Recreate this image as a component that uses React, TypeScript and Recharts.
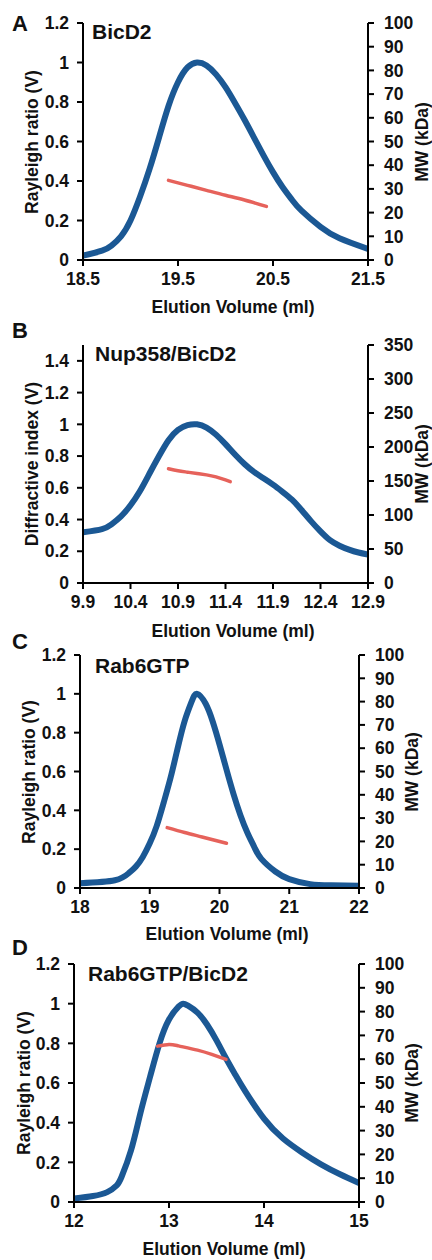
import { Line, LineChart, XAxis, YAxis } from "recharts";

const FONT = '"Liberation Sans", Arial, sans-serif';
const BLUE = "#1b5894";
const RED = "#e6625b";

// A: BicD2
const A_VOL = [18.5, 18.7, 18.8, 18.9, 19.0, 19.1, 19.2, 19.3, 19.4, 19.5, 19.6, 19.7, 19.8, 19.9, 20.0, 20.1, 20.2, 20.3, 20.4, 20.5, 20.6, 20.7, 20.8, 21.0, 21.2, 21.5];
const A_SIGNAL = [0.022, 0.047, 0.073, 0.12, 0.2, 0.32, 0.46, 0.62, 0.78, 0.9, 0.975, 1.0, 0.985, 0.94, 0.875, 0.795, 0.71, 0.62, 0.53, 0.445, 0.37, 0.305, 0.25, 0.168, 0.11, 0.056];
const A_MW_VOL = [19.4, 19.6, 19.8, 20.0, 20.2, 20.43];
const A_MW = [33.6, 31.5, 29.4, 27.3, 25.3, 22.6];

// B: Nup358/BicD2
const B_VOL = [9.9, 10.1, 10.2, 10.3, 10.4, 10.5, 10.6, 10.7, 10.8, 10.9, 11.0, 11.1, 11.2, 11.3, 11.4, 11.5, 11.6, 11.7, 11.8, 11.9, 12.0, 12.1, 12.2, 12.3, 12.4, 12.5, 12.6, 12.7, 12.8, 12.9];
const B_SIGNAL = [0.32, 0.34, 0.37, 0.42, 0.49, 0.58, 0.69, 0.8, 0.9, 0.965, 0.995, 1.0, 0.98, 0.935, 0.875, 0.81, 0.75, 0.7, 0.66, 0.62, 0.575, 0.525, 0.46, 0.39, 0.325, 0.27, 0.235, 0.21, 0.192, 0.18];
const B_MW_VOL = [10.8, 10.9, 11.0, 11.1, 11.2, 11.3, 11.45];
const B_MW = [168, 165, 163, 161, 159, 156, 149];

// C: Rab6GTP
const C_VOL = [18.0, 18.5, 18.7, 18.8, 18.9, 19.0, 19.1, 19.2, 19.3, 19.4, 19.5, 19.6, 19.68, 19.8, 19.9, 20.0, 20.1, 20.2, 20.3, 20.4, 20.5, 20.6, 20.8, 21.0, 21.3, 21.6, 22.0];
const C_SIGNAL = [0.025, 0.04, 0.077, 0.11, 0.16, 0.23, 0.32, 0.44, 0.57, 0.72, 0.86, 0.96, 1.0, 0.95, 0.86, 0.74, 0.61, 0.485, 0.375, 0.285, 0.21, 0.15, 0.085, 0.046, 0.02, 0.014, 0.012];
const C_MW_VOL = [19.25, 19.5, 19.75, 20.1];
const C_MW = [25.9, 23.8, 21.9, 19.2];

// D: Rab6GTP/BicD2
const D_VOL = [12.0, 12.2, 12.35, 12.45, 12.5, 12.6, 12.7, 12.8, 12.9, 13.0, 13.1, 13.15, 13.2, 13.3, 13.4, 13.5, 13.6, 13.7, 13.8, 14.0, 14.2, 14.4, 14.6, 14.8, 15.0];
const D_SIGNAL = [0.017, 0.03, 0.05, 0.084, 0.126, 0.26, 0.45, 0.63, 0.8, 0.92, 0.985, 1.0, 0.99, 0.955, 0.895, 0.815, 0.725, 0.64, 0.56, 0.42, 0.32, 0.25, 0.19, 0.14, 0.096];
const D_MW_VOL = [12.88, 13.0, 13.1, 13.3, 13.45, 13.6];
const D_MW = [65.5, 66.2, 65.6, 63.8, 62.0, 59.9];

const A_XTICKS = [18.5, 19.5, 20.5, 21.5];
const B_XTICKS = [9.9, 10.4, 10.9, 11.4, 11.9, 12.4, 12.9];
const C_XTICKS = [18, 19, 20, 21, 22];
const D_XTICKS = [12, 13, 14, 15];
const RAYLEIGH_TICKS = [0, 0.2, 0.4, 0.6, 0.8, 1, 1.2];
const DIFF_TICKS = [0, 0.2, 0.4, 0.6, 0.8, 1, 1.2, 1.4];
const MW100_TICKS = [0, 10, 20, 30, 40, 50, 60, 70, 80, 90, 100];
const MW350_TICKS = [0, 50, 100, 150, 200, 250, 300, 350];

const toRows = (xs: number[], ys: number[]) => xs.map((v, i) => ({ v, y: ys[i] }));

const tickStyle = { fill: "#111", fontSize: 17.5, fontWeight: 700, fontFamily: FONT };
const axisStroke = { stroke: "#000", strokeWidth: 2 };

interface PanelProps {
  letter: string;
  name: string;
  left: number;
  right: number;
  top: number;
  bottom: number;
  xDomain: [number, number];
  xTicks: number[];
  xDigits: number;
  yMax: number;
  yTicks: number[];
  yTitle: string;
  mwMax: number;
  mwTicks: number[];
  vol: number[];
  signal: number[];
  mwVol: number[];
  mw: number[];
  letterTop: number;
  nameX: number;
  nameY: number;
  yTitleX: number;
  mwTitleX: number;
  xTitleX: number;
  xTitleY: number;
}

function Panel(p: PanelProps) {
  const h = p.bottom - p.top + 50;
  const midY = (p.top + p.bottom) / 2;
  const text = { position: "absolute" as const, fontFamily: FONT, fontWeight: 700, color: "#111", whiteSpace: "nowrap" as const, lineHeight: 1 };
  return (
    <>
      <div style={{ position: "absolute", left: 0, top: p.top - 10 }}>
        <LineChart width={432} height={h} margin={{ top: 10, right: 0, bottom: 0, left: 0 }}>
          <XAxis
            dataKey="v"
            type="number"
            domain={p.xDomain}
            ticks={p.xTicks}
            interval={0}
            allowDataOverflow
            height={40}
            tickFormatter={(t: number) => t.toFixed(p.xDigits)}
            tick={tickStyle}
            tickSize={6}
            tickMargin={7}
            axisLine={axisStroke}
            tickLine={axisStroke}
          />
          <YAxis
            yAxisId="left"
            orientation="left"
            width={p.left}
            domain={[0, p.yMax]}
            ticks={p.yTicks}
            interval={0}
            allowDataOverflow
            tick={tickStyle}
            tickSize={6}
            tickMargin={8}
            axisLine={axisStroke}
            tickLine={axisStroke}
          />
          <YAxis
            yAxisId="right"
            orientation="right"
            width={432 - p.right}
            domain={[0, p.mwMax]}
            ticks={p.mwTicks}
            interval={0}
            allowDataOverflow
            tick={tickStyle}
            tickSize={6}
            tickMargin={10}
            axisLine={axisStroke}
            tickLine={axisStroke}
          />
          <Line
            yAxisId="left"
            data={toRows(p.vol, p.signal)}
            dataKey="y"
            type="natural"
            stroke={BLUE}
            strokeWidth={6}
            strokeLinecap="round"
            dot={false}
            isAnimationActive={false}
          />
          <Line
            yAxisId="right"
            data={toRows(p.mwVol, p.mw)}
            dataKey="y"
            type="natural"
            stroke={RED}
            strokeWidth={3.5}
            strokeLinecap="round"
            dot={false}
            isAnimationActive={false}
          />
        </LineChart>
      </div>
      <div style={{ ...text, left: 12, top: p.letterTop, fontSize: 22 }}>{p.letter}</div>
      <div style={{ ...text, left: p.nameX, top: p.nameY, fontSize: 21, transform: "translateY(-50%)" }}>{p.name}</div>
      <div style={{ ...text, left: p.yTitleX, top: midY, fontSize: 17.5, transform: "translate(-50%, -50%) rotate(-90deg)" }}>{p.yTitle}</div>
      <div style={{ ...text, left: p.mwTitleX, top: midY, fontSize: 17.5, transform: "translate(-50%, -50%) rotate(-90deg)" }}>MW (kDa)</div>
      <div style={{ ...text, left: p.xTitleX, top: p.xTitleY, fontSize: 17.5, transform: "translate(-50%, -50%)" }}>Elution Volume (ml)</div>
    </>
  );
}

export default function App() {
  return (
    <div style={{ position: "relative", width: 432, height: 1260, background: "#fff", overflow: "hidden" }}>
      <style>{"body{margin:0}"}</style>
      <Panel
        letter="A" name="BicD2" left={83} right={368} top={23} bottom={260}
        xDomain={[18.5, 21.5]} xTicks={A_XTICKS} xDigits={1}
        yMax={1.2} yTicks={RAYLEIGH_TICKS} yTitle="Rayleigh ratio (V)"
        mwMax={100} mwTicks={MW100_TICKS}
        vol={A_VOL} signal={A_SIGNAL} mwVol={A_MW_VOL} mw={A_MW}
        letterTop={13} nameX={92} nameY={31} yTitleX={33} mwTitleX={423} xTitleX={233} xTitleY={308}
      />
      <Panel
        letter="B" name="Nup358/BicD2" left={83} right={368} top={345} bottom={583}
        xDomain={[9.9, 12.9]} xTicks={B_XTICKS} xDigits={1}
        yMax={1.5} yTicks={DIFF_TICKS} yTitle="Diffractive index (V)"
        mwMax={350} mwTicks={MW350_TICKS}
        vol={B_VOL} signal={B_SIGNAL} mwVol={B_MW_VOL} mw={B_MW}
        letterTop={320} nameX={95} nameY={353} yTitleX={33} mwTitleX={423} xTitleX={233} xTitleY={632}
      />
      <Panel
        letter="C" name="Rab6GTP" left={80} right={359} top={655} bottom={888}
        xDomain={[18, 22]} xTicks={C_XTICKS} xDigits={0}
        yMax={1.2} yTicks={RAYLEIGH_TICKS} yTitle="Rayleigh ratio (V)"
        mwMax={100} mwTicks={MW100_TICKS}
        vol={C_VOL} signal={C_SIGNAL} mwVol={C_MW_VOL} mw={C_MW}
        letterTop={631} nameX={95} nameY={665} yTitleX={30} mwTitleX={413} xTitleX={227} xTitleY={935}
      />
      <Panel
        letter="D" name="Rab6GTP/BicD2" left={74} right={359} top={964} bottom={1202}
        xDomain={[12, 15]} xTicks={D_XTICKS} xDigits={0}
        yMax={1.2} yTicks={RAYLEIGH_TICKS} yTitle="Rayleigh ratio (V)"
        mwMax={100} mwTicks={MW100_TICKS}
        vol={D_VOL} signal={D_SIGNAL} mwVol={D_MW_VOL} mw={D_MW}
        letterTop={937} nameX={88} nameY={973} yTitleX={25} mwTitleX={413} xTitleX={224} xTitleY={1250}
      />
    </div>
  );
}
